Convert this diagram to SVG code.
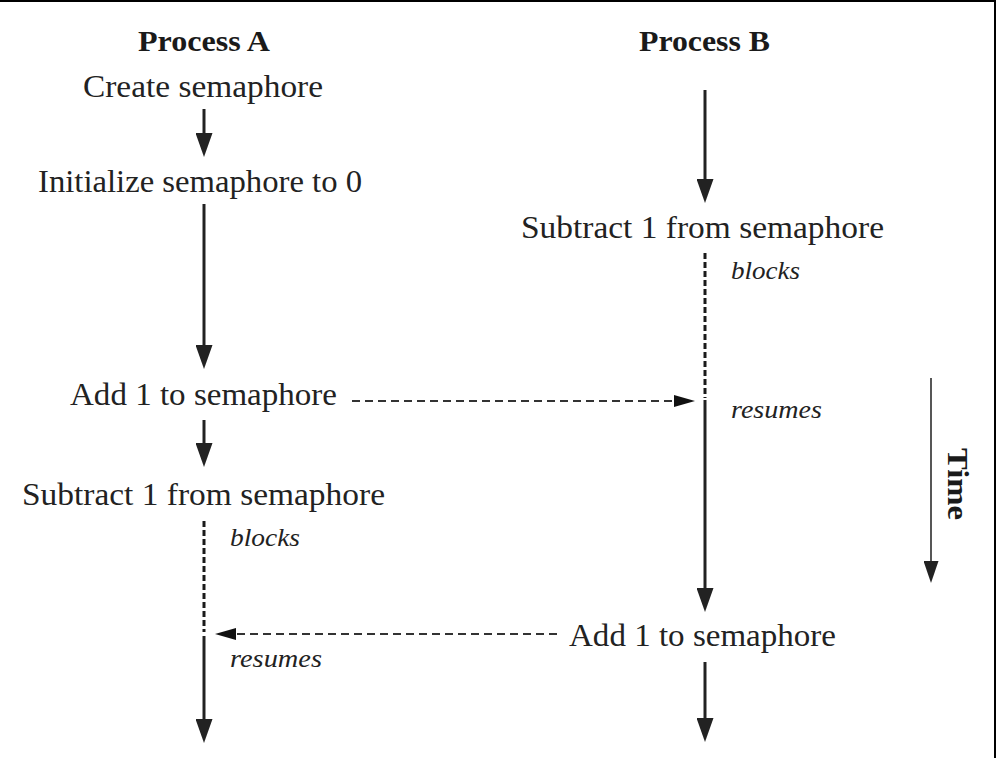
<svg xmlns="http://www.w3.org/2000/svg" width="996" height="758" viewBox="0 0 996 758">
<style>
.t{font-family:"Liberation Serif","Times New Roman",serif;font-size:31px;fill:#222;text-anchor:middle}
.h{font-family:"Liberation Serif","Times New Roman",serif;font-size:30px;font-weight:bold;fill:#1a1a1a;text-anchor:middle}
.i{font-family:"Liberation Serif","Times New Roman",serif;font-size:26px;font-style:italic;fill:#222}
.s{stroke:#222;stroke-width:3;fill:none}
.dv{stroke:#1a1a1a;stroke-width:3;stroke-dasharray:6 3;fill:none}
.dh{stroke:#333;stroke-width:2;stroke-dasharray:8 5;fill:none}
</style>
<defs>
<marker id="ah" markerUnits="userSpaceOnUse" markerWidth="24" markerHeight="17" refX="0" refY="8.5" orient="auto">
<path d="M0,0 L24,8.5 L0,17 z" fill="#222"/>
</marker>
<marker id="ahs" markerUnits="userSpaceOnUse" markerWidth="21" markerHeight="12" refX="0" refY="6" orient="auto">
<path d="M0,0 L21,6 L0,12 z" fill="#111"/>
</marker>
<marker id="aht" markerUnits="userSpaceOnUse" markerWidth="22" markerHeight="15" refX="0" refY="7.5" orient="auto">
<path d="M0,0 L22,7.5 L0,15 z" fill="#222"/>
</marker>
</defs>
<rect x="0" y="0" width="996" height="758" fill="#fff"/>
<line x1="0" y1="1" x2="996" y2="1" stroke="#000" stroke-width="2"/>
<line x1="995" y1="0" x2="995" y2="758" stroke="#000" stroke-width="2"/>

<g id="header-a"><text class="h" x="204" y="51" textLength="132" lengthAdjust="spacingAndGlyphs">Process A</text></g>
<g id="header-b"><text class="h" x="704.5" y="51" textLength="131" lengthAdjust="spacingAndGlyphs">Process B</text></g>

<g id="a-create"><text class="t" x="203" y="97" textLength="240" lengthAdjust="spacingAndGlyphs">Create semaphore</text></g>
<g id="a-init"><text class="t" x="200" y="192" textLength="324" lengthAdjust="spacingAndGlyphs">Initialize semaphore to 0</text></g>
<g id="a-add"><text class="t" x="203.5" y="405" textLength="267" lengthAdjust="spacingAndGlyphs">Add 1 to semaphore</text></g>
<g id="a-sub"><text class="t" x="203.5" y="505" textLength="363" lengthAdjust="spacingAndGlyphs">Subtract 1 from semaphore</text></g>
<g id="a-blocks"><text class="i" x="230" y="546" textLength="70" lengthAdjust="spacingAndGlyphs">blocks</text></g>
<g id="a-resumes"><text class="i" x="230" y="667" textLength="92" lengthAdjust="spacingAndGlyphs">resumes</text></g>

<g id="b-sub"><text class="t" x="702.5" y="238" textLength="363" lengthAdjust="spacingAndGlyphs">Subtract 1 from semaphore</text></g>
<g id="b-blocks"><text class="i" x="731" y="279" textLength="69" lengthAdjust="spacingAndGlyphs">blocks</text></g>
<g id="b-resumes"><text class="i" x="731" y="418" textLength="91" lengthAdjust="spacingAndGlyphs">resumes</text></g>
<g id="b-add"><text class="t" x="702.5" y="646" textLength="267" lengthAdjust="spacingAndGlyphs">Add 1 to semaphore</text></g>

<g id="time"><text class="h" transform="translate(948,484) rotate(90)" x="0" y="0" textLength="72" lengthAdjust="spacingAndGlyphs">Time</text></g>

<g id="connectors">
<line class="s" x1="204" y1="109" x2="204" y2="133" marker-end="url(#ah)"/>
<line class="s" x1="204" y1="204" x2="204" y2="345" marker-end="url(#ah)"/>
<line class="s" x1="204" y1="420" x2="204" y2="443" marker-end="url(#ah)"/>
<line class="dv" x1="204" y1="521" x2="204" y2="632"/>
<line class="s" x1="204" y1="636" x2="204" y2="719" marker-end="url(#ah)"/>

<line class="s" x1="705" y1="90" x2="705" y2="179" marker-end="url(#ah)"/>
<line class="dv" x1="705" y1="253" x2="705" y2="398"/>
<line class="s" x1="705" y1="400" x2="705" y2="588" marker-end="url(#ah)"/>
<line class="s" x1="705" y1="662" x2="705" y2="718" marker-end="url(#ah)"/>

<line class="dh" x1="352" y1="401" x2="674" y2="401" marker-end="url(#ahs)"/>
<line class="dh" x1="557" y1="634" x2="236" y2="634" marker-end="url(#ahs)"/>

<line x1="931" y1="378" x2="931" y2="561" stroke="#444" stroke-width="1.8" marker-end="url(#aht)"/>
</g>
</svg>
